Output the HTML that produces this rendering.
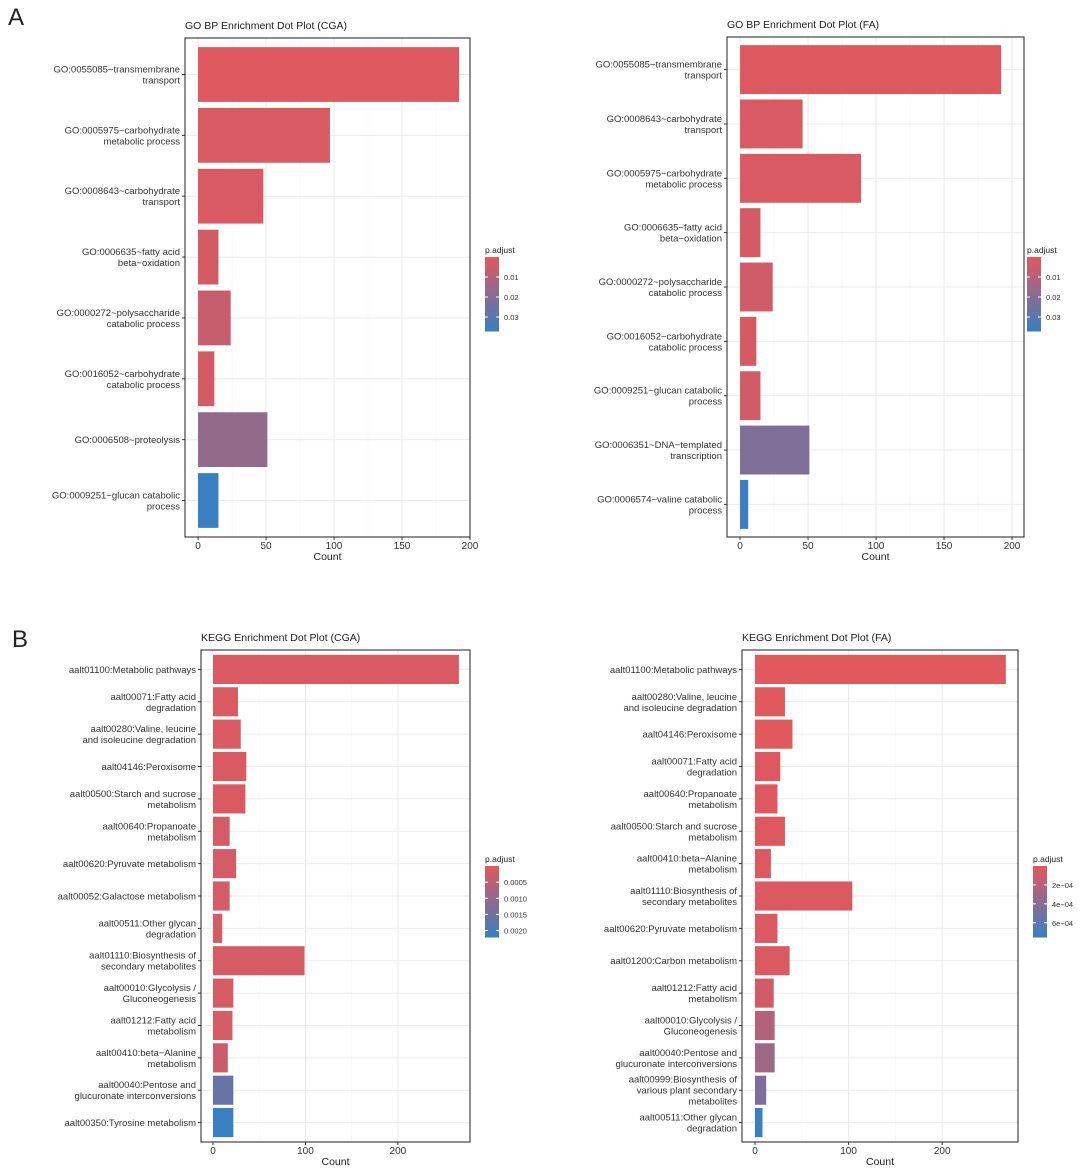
<!DOCTYPE html>
<html><head><meta charset="utf-8"><style>
html,body{margin:0;padding:0;background:#fff}
svg{display:block;font-family:"Liberation Sans",sans-serif}
</style></head><body>
<svg id="fig" width="1080" height="1173" viewBox="0 0 1080 1173" xmlns="http://www.w3.org/2000/svg">
<text x="8" y="25" font-size="24" fill="#222">A</text>
<text x="12" y="647" font-size="24" fill="#222">B</text>
</svg>
<script>
// Panel A-left data
const aLeftCats = ["GO:0055085~transmembrane|transport","GO:0005975~carbohydrate|metabolic process","GO:0008643~carbohydrate|transport","GO:0006635~fatty acid|beta−oxidation","GO:0000272~polysaccharide|catabolic process","GO:0016052~carbohydrate|catabolic process","GO:0006508~proteolysis","GO:0009251~glucan catabolic|process"];
const aLeftCounts = [192,97,48,15,24,12,51,15];
const aLeftP = [0.001,0.002,0.002,0.003,0.006,0.003,0.017,0.037];
// Panel A-right data
const aRightCats = ["GO:0055085~transmembrane|transport","GO:0008643~carbohydrate|transport","GO:0005975~carbohydrate|metabolic process","GO:0006635~fatty acid|beta−oxidation","GO:0000272~polysaccharide|catabolic process","GO:0016052~carbohydrate|catabolic process","GO:0009251~glucan catabolic|process","GO:0006351~DNA−templated|transcription","GO:0006574~valine catabolic|process"];
const aRightCounts = [192,46,89,15,24,12,15,51,6];
const aRightP = [0.001,0.002,0.002,0.003,0.004,0.003,0.004,0.022,0.037];
// Panel B-left data
const bLeftCats = ["aalt01100:Metabolic pathways","aalt00071:Fatty acid|degradation","aalt00280:Valine, leucine|and isoleucine degradation","aalt04146:Peroxisome","aalt00500:Starch and sucrose|metabolism","aalt00640:Propanoate|metabolism","aalt00620:Pyruvate metabolism","aalt00052:Galactose metabolism","aalt00511:Other glycan|degradation","aalt01110:Biosynthesis of|secondary metabolites","aalt00010:Glycolysis /|Gluconeogenesis","aalt01212:Fatty acid|metabolism","aalt00410:beta−Alanine|metabolism","aalt00040:Pentose and|glucuronate interconversions","aalt00350:Tyrosine metabolism"];
const bLeftCounts = [266,27,30,36,35,18,25,18,10,99,22,21,16,22,22];
const bLeftP = [0.0001,0.0001,0.0001,0.0001,0.0001,0.0002,0.0002,0.0002,0.0002,0.0002,0.0002,0.0002,0.0003,0.0016,0.0022];
// Panel B-right data
const bRightCats = ["aalt01100:Metabolic pathways","aalt00280:Valine, leucine|and isoleucine degradation","aalt04146:Peroxisome","aalt00071:Fatty acid|degradation","aalt00640:Propanoate|metabolism","aalt00500:Starch and sucrose|metabolism","aalt00410:beta−Alanine|metabolism","aalt01110:Biosynthesis of|secondary metabolites","aalt00620:Pyruvate metabolism","aalt01200:Carbon metabolism","aalt01212:Fatty acid|metabolism","aalt00010:Glycolysis /|Gluconeogenesis","aalt00040:Pentose and|glucuronate interconversions","aalt00999:Biosynthesis of|various plant secondary|metabolites","aalt00511:Other glycan|degradation"];
const bRightCounts = [268,32,40,27,24,32,17,104,24,37,20,21,21,12,8];
const bRightP = [0.00001,0.00001,0.00001,0.00002,0.00002,0.00002,0.00003,0.00003,0.00004,0.00004,0.00008,0.00022,0.00030,0.00045,0.00075];

const svg = document.getElementById('fig');
const NS = 'http://www.w3.org/2000/svg';
function mk(tag, attrs, parent){
  const e = document.createElementNS(NS, tag);
  for (const k in attrs) e.setAttribute(k, attrs[k]);
  (parent||svg).appendChild(e);
  return e;
}
const RED=[226,88,92], BLUE=[57,127,194];
function col(t){t=Math.max(0,Math.min(1,t));
  const c=RED.map((r,i)=>Math.round(r+(BLUE[i]-r)*t));return `rgb(${c[0]},${c[1]},${c[2]})`;}

function panel(cfg){
  const {id,title,box,dmin,dmax,ticks,cats,counts,pv,pmax,leg}=cfg;
  const [x0,y0,x1,y1]=box;
  const g = mk('g',{});
  
  
  const sx = v => x0 + (v-dmin)/(dmax-dmin)*(x1-x0);
  const n = cats.length;
  const slot = (y1-y0)/(n+0.2);
  const cy = i => y0 + slot*(0.6+i);
  const t = mk('text',{x:x0,y:y0-9,'font-size':10.5,fill:'#222'},g);
  t.textContent = title;
  
  
  // grid
  for (let k=0;k<ticks.length;k++){
    const v=ticks[k];
    mk('line',{x1:sx(v),x2:sx(v),y1:y0,y2:y1,stroke:'#ebebeb','stroke-width':1},g);
    if (k<ticks.length-1){const m=(v+ticks[k+1])/2; if(sx(m)<x1) mk('line',{x1:sx(m),x2:sx(m),y1:y0,y2:y1,stroke:'#f4f4f4','stroke-width':0.6},g);}
  }
  for (let i=0;i<n;i++) mk('line',{x1:x0,x2:x1,y1:cy(i),y2:cy(i),stroke:'#ebebeb','stroke-width':1},g);
  // bars
  for (let i=0;i<n;i++){
    const h=slot*0.9;
    const r = mk('rect',{x:sx(0),y:cy(i)-h/2,width:sx(counts[i])-sx(0),height:h,fill:col(pv[i]/pmax)},g);
    
    
    const lines = cats[i].split('|');
    const lt = mk('text',{x:x0-5,y:0,'font-size':9.5,fill:'#333','text-anchor':'end'},g);
    
    
    const lh=11, top=cy(i)-(lines.length-1)*lh/2+3.5;
    lines.forEach((s,j)=>{const ts=mk('tspan',{x:x0-5,y:top+j*lh},lt);ts.textContent=s;});
    mk('line',{x1:x0-3,x2:x0,y1:cy(i),y2:cy(i),stroke:'#333'},g);
  }
  mk('rect',{x:x0,y:y0,width:x1-x0,height:y1-y0,fill:'none',stroke:'#333','stroke-width':1.1},g);
  ticks.forEach(v=>{
    mk('line',{x1:sx(v),x2:sx(v),y1:y1,y2:y1+3,stroke:'#333'},g);
    const tt=mk('text',{x:sx(v),y:y1+12,'font-size':10,fill:'#333','text-anchor':'middle'},g);
    tt.textContent=v;
    
    
  });
  const xl=mk('text',{x:(x0+x1)/2,y:y1+23,'font-size':10.5,fill:'#222','text-anchor':'middle'},g);
  xl.textContent='Count';
  
  
  // legend
  const lg = mk('g',{},g);
  
  
  const lt2=mk('text',{x:leg.x,y:leg.y0-4,'font-size':8.5,fill:'#222'},lg);
  lt2.textContent='p.adjust';
  const steps=30, lhgt=leg.y1-leg.y0;
  for(let s=0;s<steps;s++) mk('rect',{x:leg.x,y:leg.y0+s*lhgt/steps,width:14,height:lhgt/steps+0.5,fill:col((s+0.5)/steps)},lg);
  leg.labels.forEach(([v,lab])=>{
    const y=leg.y0+v/pmax*lhgt;
    mk('line',{x1:leg.x,x2:leg.x+3,y1:y,y2:y,stroke:'#fff'},lg);
    mk('line',{x1:leg.x+11,x2:leg.x+14,y1:y,y2:y,stroke:'#fff'},lg);
    const l=mk('text',{x:leg.x+19,y:y+3,'font-size':7.5,fill:'#333'},lg);l.textContent=lab;
  });
}

panel({id:'go-cga-chart',title:'GO BP Enrichment Dot Plot (CGA)',box:[185,38,470,537],dmin:-9.6,dmax:200,ticks:[0,50,100,150,200],cats:aLeftCats,counts:aLeftCounts,pv:aLeftP,pmax:0.037,
  leg:{x:485,y0:257,y1:331,labels:[[0.01,'0.01'],[0.02,'0.02'],[0.03,'0.03']]}});
panel({id:'go-fa-chart',title:'GO BP Enrichment Dot Plot (FA)',box:[727,37,1024,537],dmin:-9.6,dmax:208.8,ticks:[0,50,100,150,200],cats:aRightCats,counts:aRightCounts,pv:aRightP,pmax:0.037,
  leg:{x:1027,y0:257,y1:331,labels:[[0.01,'0.01'],[0.02,'0.02'],[0.03,'0.03']]}});
panel({id:'kegg-cga-chart',title:'KEGG Enrichment Dot Plot (CGA)',box:[201,650,470,1142],dmin:-13,dmax:278,ticks:[0,100,200],cats:bLeftCats,counts:bLeftCounts,pv:bLeftP,pmax:0.0022,
  leg:{x:485,y0:866,y1:937,labels:[[0.0005,'0.0005'],[0.001,'0.0010'],[0.0015,'0.0015'],[0.002,'0.0020']]}});
panel({id:'kegg-fa-chart',title:'KEGG Enrichment Dot Plot (FA)',box:[742,650,1018,1142],dmin:-13.9,dmax:281,ticks:[0,100,200],cats:bRightCats,counts:bRightCounts,pv:bRightP,pmax:0.00075,
  leg:{x:1033,y0:866,y1:937,labels:[[0.0002,'2e−04'],[0.0004,'4e−04'],[0.0006,'6e−04']]}});
</script>
</body></html>
